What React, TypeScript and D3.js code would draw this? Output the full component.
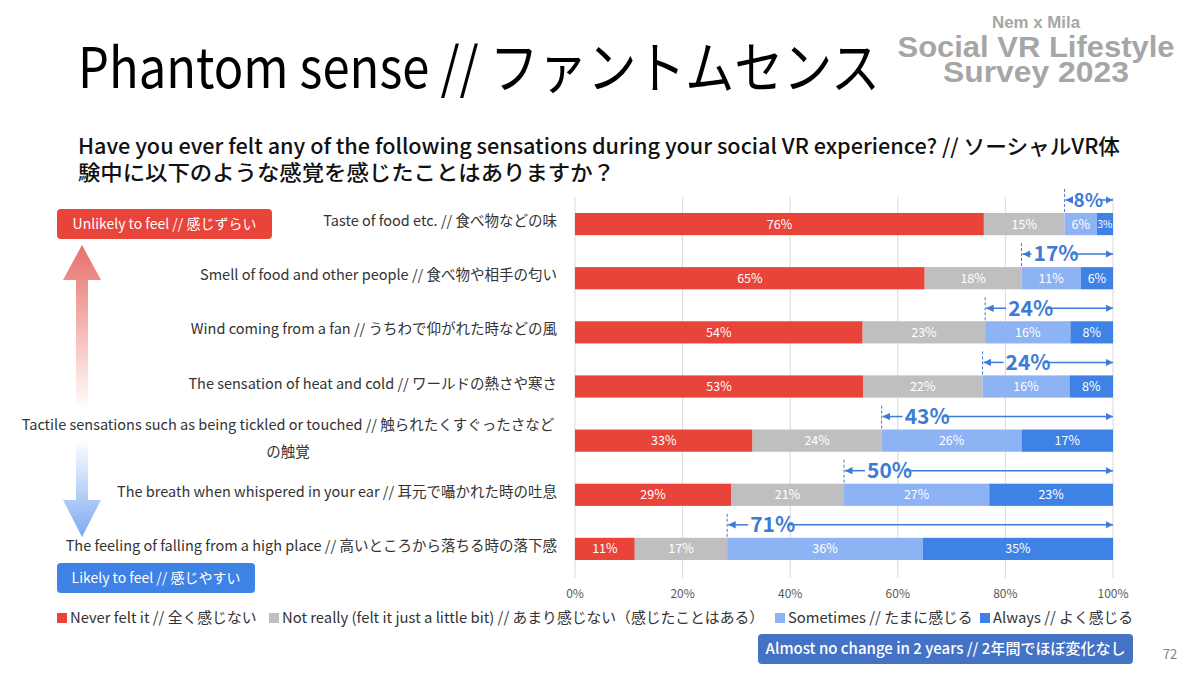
import React from "react";
import * as d3 from "d3";

const categories = [
    "Taste of food etc. // 食べ物などの味",
    "Smell of food and other people // 食べ物や相手の匂い",
    "Wind coming from a fan // うちわで仰がれた時などの風",
    "The sensation of heat and cold // ワールドの熱さや寒さ",
    "Tactile sensations such as being tickled or touched // 触られたくすぐったさなど|の触覚",
    "The breath when whispered in your ear // 耳元で囁かれた時の吐息",
    "The feeling of falling from a high place // 高いところから落ちる時の落下感",
];

const neverFelt = [76, 65, 54, 53, 33, 29, 11];
const notReally = [15, 18, 23, 22, 24, 21, 17];
const sometimes = [6, 11, 16, 16, 26, 27, 36];
const always = [3, 6, 8, 8, 17, 23, 35];
const feelTotals = [8, 17, 24, 24, 43, 50, 71];

const seriesKeys = ["never", "notReally", "sometimes", "always"];
const seriesNames = [
    "Never felt it // 全く感じない",
    "Not really (felt it just a little bit) // あまり感じない（感じたことはある）",
    "Sometimes // たまに感じる",
    "Always // よく感じる",
];
const seriesColors = ["#E8443A", "#BFBFBF", "#8DB3F5", "#3E82E6"];
const xTicks = [0, 0.2, 0.4, 0.6, 0.8, 1];

const FONT = "'Noto Sans CJK JP', 'Noto Sans', sans-serif";
const ANNO = "#3D7BD6";

const W = 1200;
const H = 675;
const margin = { left: 575, right: 87, top: 197, bottom: 99 };

// legend layout (x of each swatch)
const legendX = [57, 269, 775, 980];

const App: React.FC = () => {
    const rows = categories.map((c, i) => ({
        cat: c,
        never: neverFelt[i],
        notReally: notReally[i],
        sometimes: sometimes[i],
        always: always[i],
    }));

    const stack = d3
        .stack<any>()
        .keys(seriesKeys)
        .offset(d3.stackOffsetExpand);
    const series = stack(rows);

    const x = d3
        .scaleLinear()
        .domain([0, 1])
        .range([margin.left, W - margin.right]);

    const y = d3
        .scaleBand<string>()
        .domain(categories)
        .range([margin.top, H - margin.bottom])
        .paddingInner(0.59)
        .paddingOuter(0.295);

    const bw = y.bandwidth();

    return (
        <svg
            width={W}
            height={H}
            style={{ position: "absolute", left: 0, top: 0, background: "#fff" }}
            fontFamily={FONT}
        >
            <defs>
                <linearGradient id="upGrad" x1="0" y1="0" x2="0" y2="1">
                    <stop offset="0%" stopColor="#E86F69" />
                    <stop offset="100%" stopColor="#ffffff" />
                </linearGradient>
                <linearGradient id="downGrad" x1="0" y1="0" x2="0" y2="1">
                    <stop offset="0%" stopColor="#ffffff" />
                    <stop offset="100%" stopColor="#7DA9F2" />
                </linearGradient>
                <marker id="arrL" viewBox="0 0 10 10" refX="10" refY="5" markerWidth="5" markerHeight="5" orient="auto-start-reverse">
                    <path d="M0,0 L10,5 L0,10 z" fill={ANNO} />
                </marker>
            </defs>

            {/* title */}
            <text x={78} y={88} fontSize={56} fill="#000" textLength={802} lengthAdjust="spacingAndGlyphs">
                Phantom sense // ファントムセンス
            </text>

            {/* logo */}
            <g fill="#A6A6A6" fontFamily="'Liberation Sans', Arial, sans-serif" fontWeight="bold" textAnchor="middle">
                <text x={1036} y={28} fontSize={17} textLength={88} lengthAdjust="spacingAndGlyphs">Nem x Mila</text>
                <text x={1036} y={57} fontSize={29} textLength={277} lengthAdjust="spacingAndGlyphs">Social VR Lifestyle</text>
                <text x={1036} y={82} fontSize={29} textLength={186} lengthAdjust="spacingAndGlyphs">Survey 2023</text>
            </g>

            {/* question */}
            <g fontSize={21} fontWeight={500} fill="#111">
                <text x={78} y={154} textLength={1042} lengthAdjust="spacingAndGlyphs">
                    Have you ever felt any of the following sensations during your social VR experience? // ソーシャルVR体
                </text>
                <text x={78} y={180} textLength={537} lengthAdjust="spacingAndGlyphs">
                    験中に以下のような感覚を感じたことはありますか？
                </text>
            </g>

            {/* gridlines */}
            {xTicks.map((t) => (
                <line key={t} x1={x(t)} x2={x(t)} y1={margin.top} y2={H - margin.bottom + 2} stroke="#D9D9D9" strokeWidth={1} />
            ))}
            {xTicks.map((t) => (
                <text key={"t" + t} x={x(t)} y={598} fontSize={12} fill="#595959" textAnchor="middle">
                    {d3.format(".0%")(t)}
                </text>
            ))}

            {/* bars */}
            {series.map((s, si) => (
                <g key={s.key}>
                    {s.map((d, i) => {
                        const x0 = x(d[0]);
                        const x1 = x(d[1]);
                        const yy = y(categories[i])!;
                        const val = (rows[i] as any)[s.key] as number;
                        return (
                            <g key={i}>
                                <rect x={x0} y={yy} width={x1 - x0} height={bw} fill={seriesColors[si]} />
                                <text
                                    x={(x0 + x1) / 2}
                                    y={yy + bw / 2}
                                    dy="0.36em"
                                    fontSize={val < 5 ? 10 : 12.5}
                                    fill="#fff"
                                    textAnchor="middle"
                                >
                                    {val}%
                                </text>
                            </g>
                        );
                    })}
                </g>
            ))}

            {/* feel totals annotations */}
            {series[2].map((d, i) => {
                const xs = x(d[0]);
                const xe = x(1);
                const yy = y(categories[i])!;
                const ay = yy - 13;
                const range = xe - xs;
                const gap = range < 60 ? 9 : range < 100 ? 12 : 23;
                const label = `${feelTotals[i]}%`;
                const tw = label.length * 12;
                return (
                    <g key={"a" + i}>
                        <line x1={xs} x2={xs} y1={ay - 11} y2={yy} stroke={ANNO} strokeWidth={1} strokeDasharray="3,2" />
                        <line x1={xs + 1} x2={xs + gap - 2} y1={ay} y2={ay} stroke={ANNO} strokeWidth={1.5} markerStart="url(#arrL)" />
                        <text x={xs + gap} y={ay} dy="0.35em" fontSize={range < 60 ? 19 : 21} fontWeight="bold" fill={ANNO}>
                            {label}
                        </text>
                        <line x1={xs + gap + tw + 2} x2={xe} y1={ay} y2={ay} stroke={ANNO} strokeWidth={1.5} markerEnd="url(#arrL)" />
                    </g>
                );
            })}

            {/* category labels */}
            {categories.map((c) => {
                const parts = c.split("|");
                const cy = y(c)! + bw / 2;
                if (parts.length === 1) {
                    return (
                        <text key={c} x={557} y={cy - 3} dy="0.35em" fontSize={14.5} fill="#333" textAnchor="end">
                            {c}
                        </text>
                    );
                }
                return (
                    <g key={c} fontSize={14.5} fill="#333" textAnchor="middle">
                        <text x={288} y={cy - 16} dy="0.35em">{parts[0]}</text>
                        <text x={288} y={cy + 11} dy="0.35em">{parts[1]}</text>
                    </g>
                );
            })}

            {/* direction arrows */}
            <path d="M82,245 L101,280 L88,280 L88,410 L76,410 L76,280 L63,280 Z" fill="url(#upGrad)" />
            <path d="M76,440 L88,440 L88,500 L101,500 L82,537 L63,500 L76,500 Z" fill="url(#downGrad)" />

            <rect x={57} y={209} width={215} height={30} rx={4} fill="#E8443A" />
            <text x={164.5} y={224} dy="0.36em" fontSize={14} fill="#fff" textAnchor="middle">
                Unlikely to feel // 感じずらい
            </text>
            <rect x={57} y={563} width={198} height={30} rx={4} fill="#3E82E6" />
            <text x={156} y={578} dy="0.36em" fontSize={14} fill="#fff" textAnchor="middle">
                Likely to feel // 感じやすい
            </text>

            {/* legend */}
            {seriesNames.map((n, i) => (
                <g key={n}>
                    <rect x={legendX[i]} y={613} width={10} height={10} fill={seriesColors[i]} />
                    <text x={legendX[i] + 13} y={618} dy="0.36em" fontSize={14.8} fill="#333">
                        {n}
                    </text>
                </g>
            ))}

            {/* footer */}
            <rect x={758} y={634} width={375} height={30} rx={4} fill="#4472C4" />
            <text x={945.5} y={649} dy="0.36em" fontSize={15} fontWeight={500} fill="#fff" textAnchor="middle">
                Almost no change in 2 years // 2年間でほぼ変化なし
            </text>
            <text x={1170} y={654} dy="0.36em" fontSize={13} fill="#808080" textAnchor="middle">
                72
            </text>
        </svg>
    );
};

export default App;
